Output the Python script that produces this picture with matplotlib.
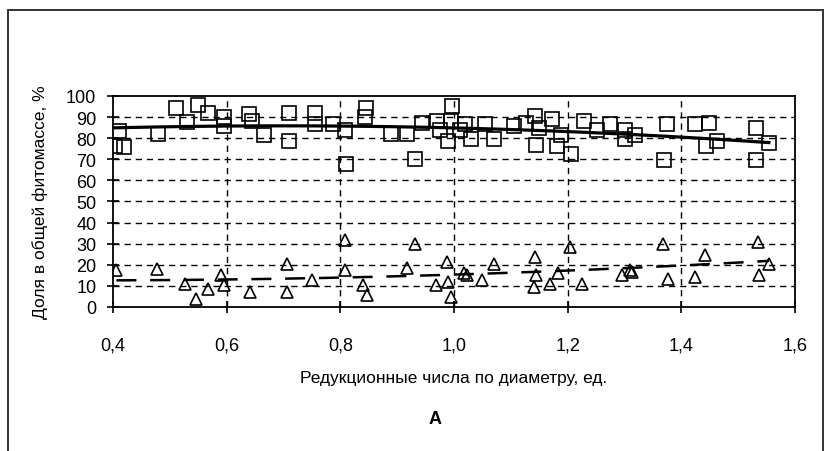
"""
Доля фракций в общей фитомассе в зависимости от редукционных чисел по диаметру (рис. А).
"""

import numpy as np
import matplotlib
matplotlib.use("Agg")
import matplotlib.pyplot as plt
import matplotlib.ticker as mticker
from matplotlib.patches import Rectangle

# ── Данные: квадраты (верхняя серия) ─────────────────────────────────────────
SQ_X = [0.403, 0.41, 0.42, 0.48, 0.51, 0.53, 0.55, 0.567, 0.595, 0.595,
        0.64, 0.645, 0.666, 0.71, 0.71, 0.755, 0.755, 0.787, 0.808, 0.81,
        0.845, 0.843, 0.89, 0.918, 0.932, 0.943, 0.97, 0.975, 0.989, 0.996,
        0.994, 1.01, 1.02, 1.03, 1.054, 1.07, 1.105, 1.126, 1.142, 1.145,
        1.149, 1.173, 1.182, 1.189, 1.206, 1.228, 1.252, 1.274, 1.30, 1.30,
        1.318, 1.37, 1.374, 1.424, 1.444, 1.449, 1.463, 1.532, 1.532, 1.554]
SQ_Y = [76.2, 83.5, 76.0, 82.0, 94.4, 87.8, 95.7, 92.0, 90.0, 85.7,
        91.7, 88.0, 81.7, 92.0, 78.6, 92.0, 86.5, 86.5, 84.0, 68.0,
        94.4, 90.0, 82.0, 82.0, 70.0, 87.3, 88.0, 84.0, 78.6, 95.2,
        88.0, 84.0, 86.5, 79.4, 86.5, 79.4, 85.7, 87.3, 90.5, 77.0,
        85.0, 89.0, 76.2, 81.7, 72.5, 88.0, 84.0, 86.5, 79.4, 84.0,
        81.7, 69.5, 86.8, 86.5, 76.2, 87.3, 78.6, 85.0, 69.8, 77.8]

# ── Данные: треугольники (нижняя серия) ──────────────────────────────────────
TR_X = [0.406, 0.477, 0.527, 0.546, 0.567, 0.59, 0.595, 0.641, 0.706, 0.706,
        0.75, 0.808, 0.808, 0.84, 0.847, 0.932, 0.917, 0.969, 0.987, 0.989,
        0.994, 1.017, 1.022, 1.05, 1.07, 1.142, 1.145, 1.14, 1.169, 1.183,
        1.204, 1.226, 1.295, 1.31, 1.314, 1.368, 1.377, 1.424, 1.441, 1.534,
        1.537, 1.554]
TR_Y = [17.5, 18.0, 11.0, 4.0, 8.7, 15.0, 10.3, 7.0, 20.6, 7.0,
        12.7, 31.7, 17.5, 10.3, 5.6, 30.0, 18.6, 10.3, 21.4, 12.0,
        4.8, 15.9, 15.0, 12.7, 20.6, 23.8, 15.0, 9.5, 11.0, 15.9,
        28.6, 11.0, 15.0, 17.5, 16.7, 30.0, 13.5, 14.3, 24.6, 31.0,
        15.0, 20.6]

X_TICKS = [0.4, 0.6, 0.8, 1.0, 1.2, 1.4, 1.6]
Y_TICKS = list(range(0, 101, 10))

FONT = ["Liberation Sans", "DejaVu Sans"]


def trend(x, y, deg=2):
    """Полиномиальная линия тренда (как в Excel)."""
    coef = np.polyfit(x, y, deg)
    xs = np.linspace(min(x), max(x), 200)
    return xs, np.polyval(coef, xs)


def main():
    plt.rcParams["font.family"] = FONT
    fig = plt.figure(figsize=(8.26, 4.52), dpi=100)
    ax = fig.add_axes([0.1368, 0.3186, 0.8257, 0.4668])

    # сетка
    for yv in Y_TICKS[1:-1]:
        ax.axhline(yv, color="k", lw=1.0, ls=(0, (4.5, 3.5)), zorder=1)
    for xv in X_TICKS[1:-1]:
        ax.axvline(xv, color="k", lw=1.0, ls=(0, (4.5, 3.5)), zorder=1)

    # точки
    ax.plot(SQ_X, SQ_Y, ls="none", marker="s", ms=9.5, mfc="none",
            mec="k", mew=1.2, zorder=3)
    ax.plot(TR_X, TR_Y, ls="none", marker="^", ms=8.8, mfc="none",
            mec="k", mew=1.2, zorder=3)

    # линии тренда
    xs, ys = trend(SQ_X, SQ_Y)
    ax.plot(xs, ys, color="k", lw=2.3, zorder=4)
    xt, yt = trend(TR_X, TR_Y)
    ax.plot(xt, yt, color="k", lw=1.8, ls=(0, (8, 5.5)), zorder=4)

    ax.set_xlim(0.4, 1.6)
    ax.set_ylim(0, 100)
    ax.set_xticks(X_TICKS)
    ax.set_yticks(Y_TICKS)
    ax.xaxis.set_major_formatter(
        mticker.FuncFormatter(lambda v, p: f"{v:.1f}".replace(".", ",")))
    ax.tick_params(axis="both", direction="inout", length=8, width=1.2,
                   labelsize=13)
    ax.tick_params(axis="x", pad=17)
    ax.tick_params(axis="y", pad=8)
    for sp in ax.spines.values():
        sp.set_linewidth(1.3)

    ax.set_xlabel("Редукционные числа по диаметру, ед.", fontsize=12.5,
                  va="center")
    ax.xaxis.set_label_coords(0.5, -0.332)
    ax.set_ylabel("Доля в общей фитомассе, %", fontsize=12.5, va="center")
    ax.yaxis.set_label_coords(-0.107, 0.5)

    fig.text(435 / 826, 1 - 420 / 452, "А", fontsize=13, fontweight="bold",
             ha="center", va="center")

    # рамка области диаграммы
    fig.add_artist(Rectangle((8 / 826, -0.1), 815 / 826, 1.1 - 11 / 452,
                             transform=fig.transFigure, fill=False,
                             ec="#333333", lw=1.4))

    fig.savefig("out.png", dpi=100)
    plt.close(fig)


if __name__ == "__main__":
    main()
